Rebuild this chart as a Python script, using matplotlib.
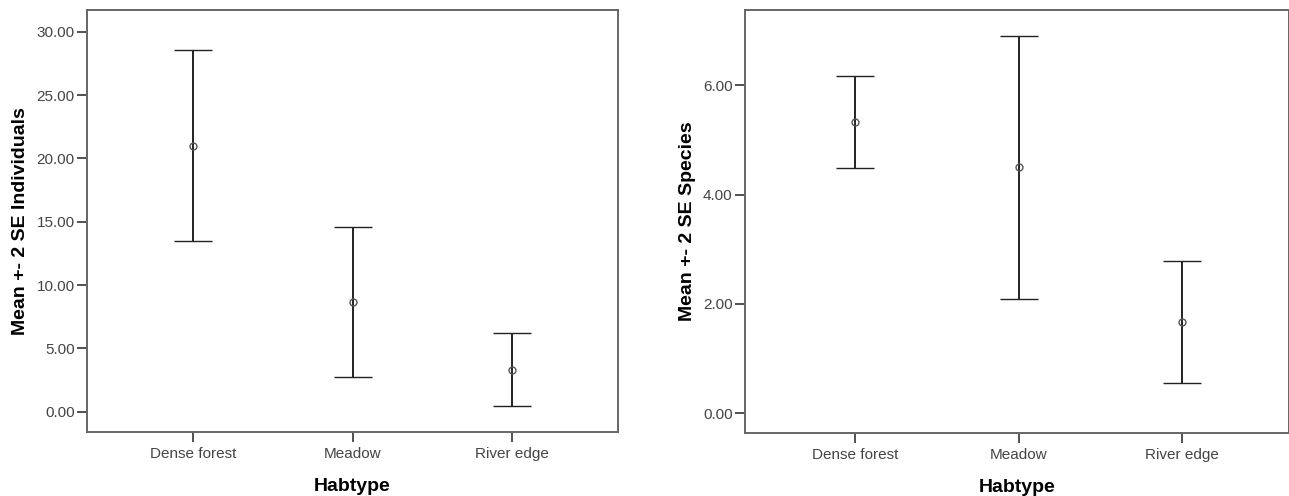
import matplotlib
matplotlib.use("Agg")
from matplotlib import pyplot as plt

habtypes = ["Dense forest", "Meadow", "River edge"]

# mean and the +-2 SE limits
ind_mean = [20.97, 8.65, 3.30]
ind_lower = [13.47, 2.75, 0.45]
ind_upper = [28.55, 14.57, 6.18]

spec_mean = [5.33, 4.50, 1.67]
spec_lower = [4.49, 2.09, 0.55]
spec_upper = [6.17, 6.91, 2.78]

ind_ticks = [0, 5, 10, 15, 20, 25, 30]
spec_ticks = [0, 2, 4, 6]

plt.rcParams['font.family'] = ['Liberation Sans', 'DejaVu Sans']

fig = plt.figure(figsize=(12.89, 4.96), dpi=100)
ax1 = fig.add_axes([87/1289, 1 - 432/496, 531/1289, 422/496])
ax2 = fig.add_axes([745/1289, 1 - 433/496, 544/1289, 423/496])


def draw(ax, mean, lower, upper, ticks, ylim, xlim, ylabel):
    x = [1, 2, 3]
    err = [[m - lo for m, lo in zip(mean, lower)],
           [up - m for m, up in zip(mean, upper)]]
    ax.errorbar(x, mean, yerr=err, fmt='o', color='#222222', ecolor='#222222',
                elinewidth=1.4, capsize=13.7, capthick=1.6,
                markersize=5, markerfacecolor='none', markeredgecolor='#555555',
                markeredgewidth=1)
    ax.set_xlim(xlim)
    ax.set_ylim(ylim)
    ax.set_xticks(x)
    ax.set_xticklabels(habtypes)
    ax.set_yticks(ticks)
    ax.set_yticklabels(["%.2f" % t for t in ticks])
    ax.tick_params(axis='both', direction='out', length=7, width=1.2,
                   color='#333333', labelsize=11, labelcolor='#444444', pad=2)
    ax.tick_params(axis='x', pad=4)
    for s in ax.spines.values():
        s.set_color('#666666')
        s.set_linewidth(1.4)
    ax.set_xlabel("Habtype", fontsize=14, fontweight='bold', labelpad=12)
    ax.set_ylabel(ylabel, fontsize=14, fontweight='bold', labelpad=5)


draw(ax1, ind_mean, ind_lower, ind_upper, ind_ticks, (-1.6, 31.71), (0.333, 3.667),
     "Mean +- 2 SE Individuals")
draw(ax2, spec_mean, spec_lower, spec_upper, spec_ticks, (-0.366, 7.38),
     (1 - 110/163.5, 3 + 107/163.5), "Mean +- 2 SE Species")

fig.savefig("out.png", dpi=100)
